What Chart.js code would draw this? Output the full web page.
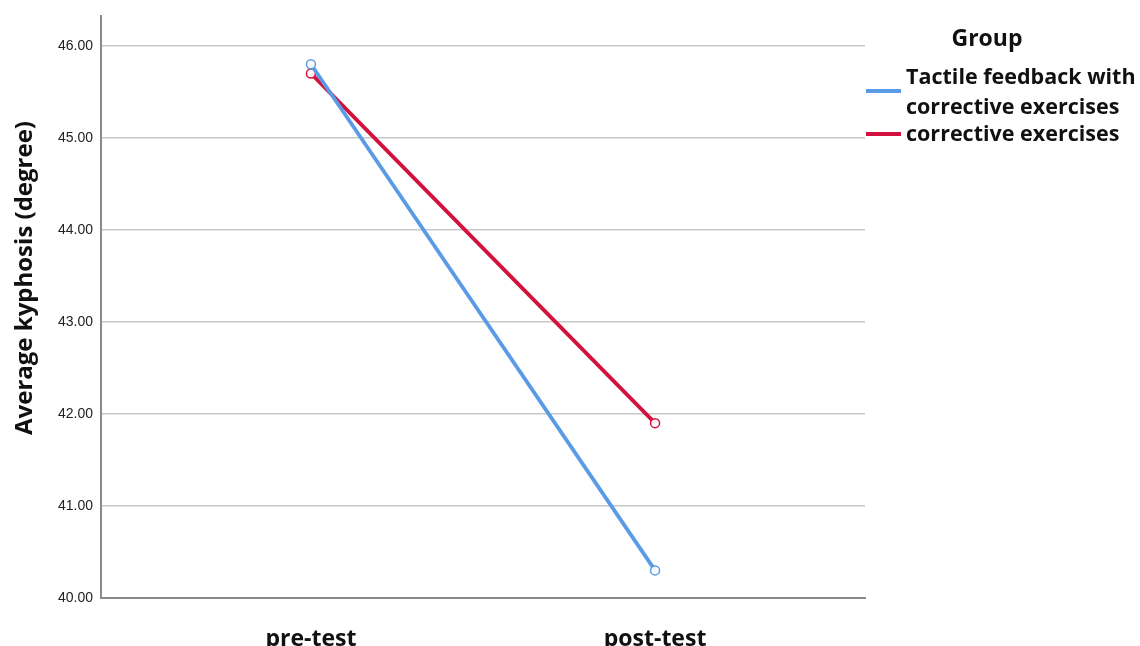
<!DOCTYPE html>
<html>
<head>
<meta charset="utf-8">
<script src="https://cdn.jsdelivr.net/npm/chart.js@4/dist/chart.umd.min.js"></script>
<style>
html,body{margin:0;padding:0;background:#fff;}
#wrap{position:relative;width:1140px;height:646px;}
</style>
</head>
<body>
<div id="wrap"><canvas id="c" width="1140" height="646"></canvas></div>
<script>
const categories = ['pre-test', 'post-test'];
const seriesNames = ['Tactile feedback with corrective exercises', 'corrective exercises'];
const tactileValues = [45.8, 40.3];
const correctiveValues = [45.7, 41.9];
const yTickValues = [40, 41, 42, 43, 44, 45, 46];
const legendTitle = 'Group';
const yAxisTitle = 'Average kyphosis (degree)';

const colors = ['#5b9be6', '#d2123c'];
const legendLines = [['Tactile feedback with', 'corrective exercises'], ['corrective exercises']];
const boldFont = '"Open Sans", Lato, sans-serif';

function toPoints(vals){ return vals.map((v,i)=>({x:i, y:v})); }

const textPlugin = {
  id: 'customText',
  afterDraw(chart){
    const ctx = chart.ctx;
    ctx.save();
    // y axis title
    ctx.fillStyle = '#111';
    ctx.textBaseline = 'middle';
    ctx.textAlign = 'center';
    ctx.font = 'bold 24px ' + boldFont;
    ctx.save();
    ctx.translate(25, 278);
    ctx.rotate(-Math.PI / 2);
    ctx.fillText(yAxisTitle, 0, 0);
    ctx.restore();
    // legend
    ctx.font = 'bold 23px ' + boldFont;
    ctx.fillText(legendTitle, 987, 39);
    ctx.textAlign = 'left';
    ctx.font = 'bold 21.5px ' + boldFont;
    const items = [
      {lineY: 91, textY: [78, 108]},
      {lineY: 134, textY: [135]}
    ];
    chart.data.datasets.forEach((ds, i) => {
      const it = items[i];
      ctx.strokeStyle = ds.borderColor;
      ctx.lineWidth = 4;
      ctx.beginPath();
      ctx.moveTo(866, it.lineY);
      ctx.lineTo(901, it.lineY);
      ctx.stroke();
      ctx.fillStyle = '#111';
      legendLines[i].forEach((t, k) => ctx.fillText(t, 906, it.textY[k]));
    });
    ctx.restore();
  }
};

new Chart(document.getElementById('c'), {
  type: 'line',
  data: {
    datasets: [
      {label: seriesNames[0], data: toPoints(tactileValues), borderColor: colors[0], pointBorderColor: colors[0]},
      {label: seriesNames[1], data: toPoints(correctiveValues), borderColor: colors[1], pointBorderColor: colors[1]}
    ].map(d => Object.assign({
      borderWidth: 3.8,
      pointRadius: 4.5,
      pointBorderWidth: 1.5,
      pointBackgroundColor: 'rgba(255,255,255,0.9)',
      tension: 0,
      fill: false
    }, d))
  },
  options: {
    responsive: false,
    animation: false,
    layout: {padding: {left: 0, right: 275, top: 16, bottom: 0}},
    plugins: {legend: {display: false}, tooltip: {enabled: false}},
    scales: {
      x: {
        type: 'linear',
        min: -0.61,
        max: 1.61,
        afterBuildTicks(s){ s.ticks = categories.map((c,i)=>({value:i})); },
        afterFit(s){ s.height = 48; },
        grid: {display: false, drawTicks: false},
        border: {display: true, color: '#8a8a8a', width: 2},
        ticks: {
          callback: (v) => categories[v] ?? '',
          font: {family: boldFont, size: 23, weight: 'bold'},
          color: '#111',
          padding: 28,
          maxRotation: 0
        }
      },
      y: {
        min: 40,
        max: 46.32,
        afterBuildTicks(s){ s.ticks = yTickValues.map(v=>({value:v})); },
        afterFit(s){ s.width = 101; },
        grid: {color: '#c8c8c8', lineWidth: 1.5, drawTicks: false},
        border: {display: true, color: '#8a8a8a', width: 2},
        ticks: {
          callback: (v) => Number(v).toFixed(2),
          font: {family: 'Arial, "Liberation Sans", sans-serif', size: 14},
          color: '#222',
          padding: 8
        },
        title: {display: false}
      }
    }
  },
  plugins: [textPlugin]
});
</script>
</body>
</html>
